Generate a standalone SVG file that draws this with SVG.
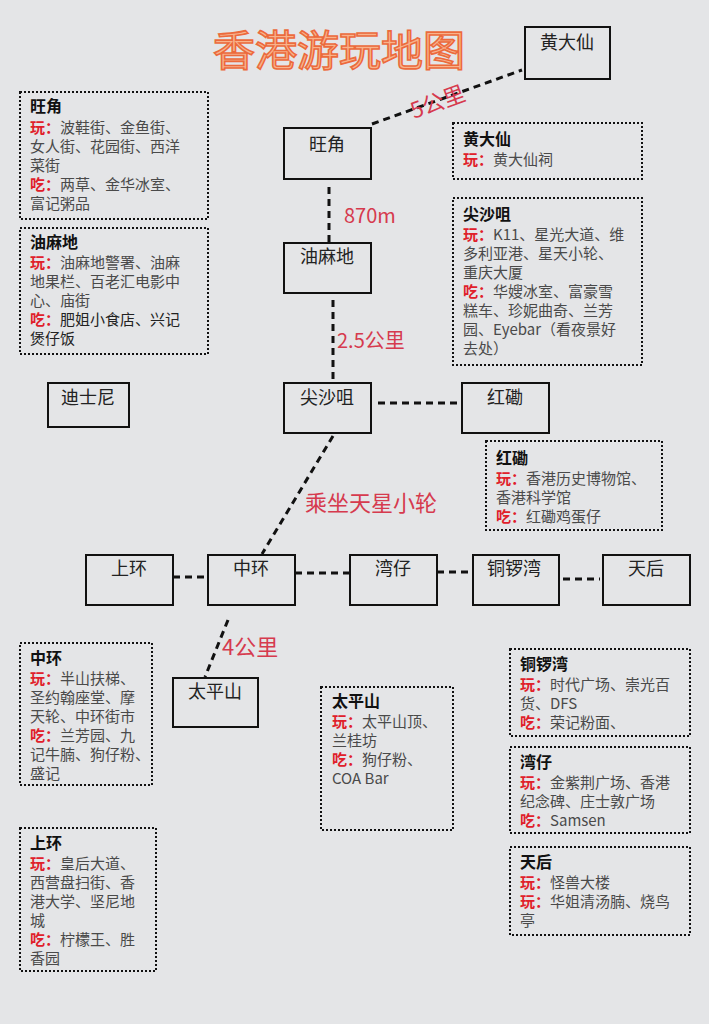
<svg xmlns="http://www.w3.org/2000/svg" width="709" height="1024" viewBox="0 0 709 1024">
<defs>
<style>
.bg{fill:#e4e5e7}
.node{fill:none;stroke:#111;stroke-width:2}
.ntext{font-family:"Noto Sans CJK SC","Noto Sans",sans-serif;font-size:18px;fill:#222;text-anchor:middle}
.conn{stroke:#111;stroke-width:3;stroke-dasharray:7 5;fill:none}
.elabel{font-family:"Noto Sans CJK SC","Noto Sans",sans-serif;font-size:20px;fill:#d63a4e}
.info{fill:none;stroke:#111;stroke-width:2;stroke-dasharray:2 2}
.it{font-family:"Noto Sans CJK SC","Noto Sans",sans-serif;font-size:15px;fill:#4a4a4a}
.ih{font-family:"Noto Sans CJK SC","Noto Sans",sans-serif;font-size:16px;font-weight:bold;fill:#111}
.k{fill:#e0202a;font-weight:bold}
.title{font-family:"Noto Sans CJK SC","Noto Sans",sans-serif;font-size:42px;fill:#f8b38c;stroke:#ec6a3c;stroke-width:1.6;text-anchor:middle}
</style>
</defs>
<rect class="bg" x="0" y="0" width="709" height="1024"/>
<text class="title" x="339" y="66">香港游玩地图</text>

<g id="connectors">
<line class="conn" x1="372" y1="124" x2="522" y2="70"/>
<line class="conn" x1="329" y1="187" x2="329" y2="242"/>
<line class="conn" x1="333" y1="300" x2="333" y2="381"/>
<line class="conn" x1="378" y1="403" x2="458" y2="403"/>
<line class="conn" x1="333" y1="436" x2="262" y2="554"/>
<line class="conn" x1="173" y1="577" x2="208" y2="577"/>
<line class="conn" x1="295" y1="573" x2="350" y2="573"/>
<line class="conn" x1="437" y1="572" x2="473" y2="572"/>
<line class="conn" x1="563" y1="579" x2="600" y2="579"/>
<line class="conn" x1="228" y1="620" x2="205" y2="677"/>
<text class="elabel" style="font-size:22px" transform="translate(414,119) rotate(-20)">5公里</text>
<text class="elabel" x="344" y="223">870m</text>
<text class="elabel" x="337" y="348">2.5公里</text>
<text class="elabel" x="305" y="511" style="font-size:22px">乘坐天星小轮</text>
<text class="elabel" x="222" y="655" style="font-size:22px">4公里</text>
</g>

<g id="n-huangdaxian"><rect class="node" x="525" y="27" width="85" height="52"/><text class="ntext" x="567" y="49">黄大仙</text></g>
<g id="n-wangjiao"><rect class="node" x="284" y="128" width="87" height="51"/><text class="ntext" x="327" y="151">旺角</text></g>
<g id="n-youmadi"><rect class="node" x="284" y="243" width="87" height="50"/><text class="ntext" x="327" y="263">油麻地</text></g>
<g id="n-jianshazui"><rect class="node" x="284" y="383" width="87" height="50"/><text class="ntext" x="327" y="404">尖沙咀</text></g>
<g id="n-hongkan"><rect class="node" x="462" y="383" width="87" height="50"/><text class="ntext" x="505" y="404">红磡</text></g>
<g id="n-dishini"><rect class="node" x="48" y="383" width="81" height="44"/><text class="ntext" x="88" y="404">迪士尼</text></g>
<g id="n-shanghuan"><rect class="node" x="86" y="555" width="87" height="50"/><text class="ntext" x="129" y="575">上环</text></g>
<g id="n-zhonghuan"><rect class="node" x="208" y="555" width="87" height="50"/><text class="ntext" x="251" y="575">中环</text></g>
<g id="n-wanzai"><rect class="node" x="350" y="555" width="87" height="50"/><text class="ntext" x="393" y="575">湾仔</text></g>
<g id="n-tongluowan"><rect class="node" x="473" y="555" width="86" height="50"/><text class="ntext" x="514" y="575">铜锣湾</text></g>
<g id="n-tianhou"><rect class="node" x="603" y="555" width="87" height="50"/><text class="ntext" x="646" y="575">天后</text></g>
<g id="n-taipingshan"><rect class="node" x="173" y="678" width="85" height="49"/><text class="ntext" x="215" y="698">太平山</text></g>

<g id="info-wangjiao"><rect class="info" x="20" y="92" width="188" height="127"/>
<text class="ih" x="30" y="112">旺角</text>
<text class="it" x="30" y="133"><tspan class="k">玩：</tspan>波鞋街、金鱼街、</text>
<text class="it" x="30" y="152">女人街、花园街、西洋</text>
<text class="it" x="30" y="171">菜街</text>
<text class="it" x="30" y="190"><tspan class="k">吃：</tspan>两草、金华冰室、</text>
<text class="it" x="30" y="209">富记粥品</text></g>

<g id="info-youmadi"><rect class="info" x="20" y="228" width="188" height="126"/>
<text class="ih" x="30" y="248">油麻地</text>
<text class="it" x="30" y="268"><tspan class="k">玩：</tspan>油麻地警署、油麻</text>
<text class="it" x="30" y="287">地果栏、百老汇电影中</text>
<text class="it" x="30" y="306">心、庙街</text>
<text class="it" x="30" y="325" style="fill:#222"><tspan class="k">吃：</tspan>肥姐小食店、兴记</text>
<text class="it" x="30" y="344" style="fill:#222">煲仔饭</text></g>

<g id="info-huangdaxian"><rect class="info" x="453" y="123" width="189" height="56"/>
<text class="ih" x="463" y="145">黄大仙</text>
<text class="it" x="463" y="165"><tspan class="k">玩：</tspan>黄大仙祠</text></g>

<g id="info-jianshazui"><rect class="info" x="453" y="198" width="189" height="167"/>
<text class="ih" x="463" y="220">尖沙咀</text>
<text class="it" x="463" y="240"><tspan class="k">玩：</tspan>K11、星光大道、维</text>
<text class="it" x="463" y="259">多利亚港、星天小轮、</text>
<text class="it" x="463" y="278">重庆大厦</text>
<text class="it" x="463" y="297"><tspan class="k">吃：</tspan>华嫂冰室、富豪雪</text>
<text class="it" x="463" y="316">糕车、珍妮曲奇、兰芳</text>
<text class="it" x="463" y="335">园、Eyebar（看夜景好</text>
<text class="it" x="463" y="354">去处）</text></g>

<g id="info-hongkan"><rect class="info" x="486" y="441" width="176" height="89"/>
<text class="ih" x="496" y="464">红磡</text>
<text class="it" x="496" y="484"><tspan class="k">玩：</tspan>香港历史博物馆、</text>
<text class="it" x="496" y="503">香港科学馆</text>
<text class="it" x="496" y="522"><tspan class="k">吃：</tspan>红磡鸡蛋仔</text></g>

<g id="info-zhonghuan"><rect class="info" x="20" y="643" width="132" height="142"/>
<text class="ih" x="30" y="664">中环</text>
<text class="it" x="30" y="684"><tspan class="k">玩：</tspan>半山扶梯、</text>
<text class="it" x="30" y="703">圣约翰座堂、摩</text>
<text class="it" x="30" y="722">天轮、中环街市</text>
<text class="it" x="30" y="741"><tspan class="k">吃：</tspan>兰芳园、九</text>
<text class="it" x="30" y="760">记牛腩、狗仔粉、</text>
<text class="it" x="30" y="779">盛记</text></g>

<g id="info-shanghuan"><rect class="info" x="20" y="828" width="136" height="143"/>
<text class="ih" x="30" y="849">上环</text>
<text class="it" x="30" y="869"><tspan class="k">玩：</tspan>皇后大道、</text>
<text class="it" x="30" y="888">西营盘扫街、香</text>
<text class="it" x="30" y="907">港大学、坚尼地</text>
<text class="it" x="30" y="926">城</text>
<text class="it" x="30" y="945"><tspan class="k">吃：</tspan>柠檬王、胜</text>
<text class="it" x="30" y="964">香园</text></g>

<g id="info-taipingshan"><rect class="info" x="321" y="687" width="132" height="143"/>
<text class="ih" x="332" y="707">太平山</text>
<text class="it" x="332" y="727"><tspan class="k">玩：</tspan>太平山顶、</text>
<text class="it" x="332" y="746">兰桂坊</text>
<text class="it" x="332" y="765"><tspan class="k">吃：</tspan>狗仔粉、</text>
<text class="it" x="332" y="784">COA Bar</text></g>

<g id="info-tongluowan"><rect class="info" x="510" y="649" width="180" height="87"/>
<text class="ih" x="520" y="670">铜锣湾</text>
<text class="it" x="520" y="690"><tspan class="k">玩：</tspan>时代广场、崇光百</text>
<text class="it" x="520" y="709">货、DFS</text>
<text class="it" x="520" y="728"><tspan class="k">吃：</tspan>荣记粉面、</text></g>

<g id="info-wanzai"><rect class="info" x="510" y="747" width="180" height="86"/>
<text class="ih" x="520" y="768">湾仔</text>
<text class="it" x="520" y="788"><tspan class="k">玩：</tspan>金紫荆广场、香港</text>
<text class="it" x="520" y="807">纪念碑、庄士敦广场</text>
<text class="it" x="520" y="826"><tspan class="k">吃：</tspan>Samsen</text></g>

<g id="info-tianhou"><rect class="info" x="510" y="847" width="180" height="88"/>
<text class="ih" x="520" y="868">天后</text>
<text class="it" x="520" y="888"><tspan class="k">玩：</tspan>怪兽大楼</text>
<text class="it" x="520" y="907"><tspan class="k">玩：</tspan>华姐清汤腩、烧鸟</text>
<text class="it" x="520" y="926">亭</text></g>
</svg>
